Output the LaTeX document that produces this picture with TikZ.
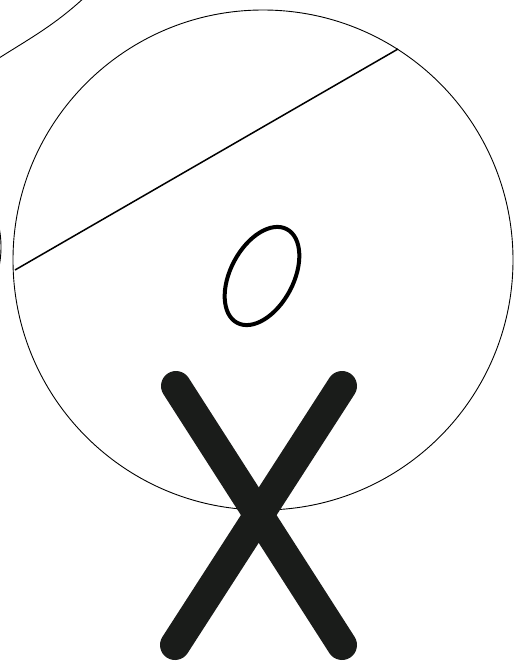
\documentclass[tikz,border=0pt]{standalone}
\usepackage{tikz}
\definecolor{xdark}{HTML}{1A1C1A}
\begin{document}
\begin{tikzpicture}[x=1pt,y=-1pt,
  thinline/.style={draw=black,line width=0.9pt},
  chordline/.style={draw=black,line width=1.5pt},
  ovalline/.style={draw=black,line width=4pt},
  xstroke/.style={draw=xdark,line width=30pt,line cap=round}]
\useasboundingbox (0,0) rectangle (525,664);
\coordinate (c) at (263,260);
\coordinate (chA) at (15,270);
\coordinate (chB) at (398,49);
\coordinate (o) at (262,276);
\coordinate (x1) at (176,386);
\coordinate (x2) at (342,645);
\coordinate (x3) at (342,386);
\coordinate (x4) at (175,645);
% big circle
\draw[thinline] (c) circle [radius=250];
% chord
\draw[chordline] (chA) -- (chB);
% small tilted oval
\draw[ovalline,rotate around={62:(o)}] (o) ellipse [x radius=53, y radius=31.5];
% partial arcs at the edges
\draw[thinline] (-4,60) .. controls (27,40) and (54,26) .. (86,-4);
\draw[thinline] (-100,247) ++(-15:101) arc [start angle=-15, end angle=15, radius=101];
% the X
\draw[xstroke] (x1) -- (x2);
\draw[xstroke] (x3) -- (x4);
\end{tikzpicture}
\end{document}
